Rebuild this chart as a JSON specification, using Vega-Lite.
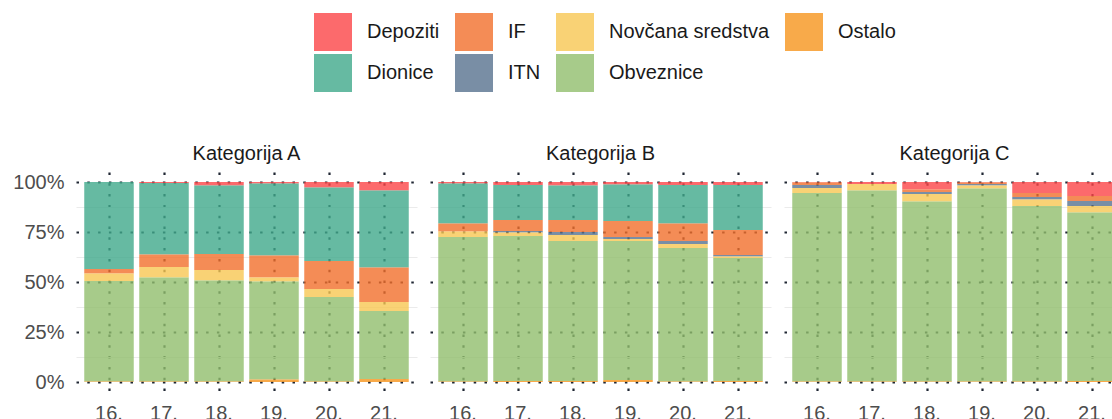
{
  "$schema": "https://vega.github.io/schema/vega-lite/v6.json",
  "padding": {"left": 12, "top": 13, "right": 0, "bottom": 0},
  "data": {"values": [
    {"kategorija": "Kategorija A", "razdoblje": "16.", "vrsta": "Dionice", "udio": 43.5},
    {"kategorija": "Kategorija A", "razdoblje": "16.", "vrsta": "IF", "udio": 2.2},
    {"kategorija": "Kategorija A", "razdoblje": "16.", "vrsta": "Novčana sredstva", "udio": 3.8},
    {"kategorija": "Kategorija A", "razdoblje": "16.", "vrsta": "Obveznice", "udio": 50.2},
    {"kategorija": "Kategorija A", "razdoblje": "16.", "vrsta": "Ostalo", "udio": 0.3},
    {"kategorija": "Kategorija A", "razdoblje": "17.", "vrsta": "Depoziti", "udio": 0.5},
    {"kategorija": "Kategorija A", "razdoblje": "17.", "vrsta": "Dionice", "udio": 35.7},
    {"kategorija": "Kategorija A", "razdoblje": "17.", "vrsta": "IF", "udio": 6.3},
    {"kategorija": "Kategorija A", "razdoblje": "17.", "vrsta": "Novčana sredstva", "udio": 5.3},
    {"kategorija": "Kategorija A", "razdoblje": "17.", "vrsta": "Obveznice", "udio": 51.9},
    {"kategorija": "Kategorija A", "razdoblje": "17.", "vrsta": "Ostalo", "udio": 0.3},
    {"kategorija": "Kategorija A", "razdoblje": "18.", "vrsta": "Depoziti", "udio": 1.8},
    {"kategorija": "Kategorija A", "razdoblje": "18.", "vrsta": "Dionice", "udio": 34.2},
    {"kategorija": "Kategorija A", "razdoblje": "18.", "vrsta": "IF", "udio": 8.0},
    {"kategorija": "Kategorija A", "razdoblje": "18.", "vrsta": "Novčana sredstva", "udio": 5.2},
    {"kategorija": "Kategorija A", "razdoblje": "18.", "vrsta": "Obveznice", "udio": 50.5},
    {"kategorija": "Kategorija A", "razdoblje": "18.", "vrsta": "Ostalo", "udio": 0.3},
    {"kategorija": "Kategorija A", "razdoblje": "19.", "vrsta": "Depoziti", "udio": 0.7},
    {"kategorija": "Kategorija A", "razdoblje": "19.", "vrsta": "Dionice", "udio": 36.1},
    {"kategorija": "Kategorija A", "razdoblje": "19.", "vrsta": "IF", "udio": 11.0},
    {"kategorija": "Kategorija A", "razdoblje": "19.", "vrsta": "Novčana sredstva", "udio": 2.0},
    {"kategorija": "Kategorija A", "razdoblje": "19.", "vrsta": "Obveznice", "udio": 49.0},
    {"kategorija": "Kategorija A", "razdoblje": "19.", "vrsta": "Ostalo", "udio": 1.2},
    {"kategorija": "Kategorija A", "razdoblje": "20.", "vrsta": "Depoziti", "udio": 2.8},
    {"kategorija": "Kategorija A", "razdoblje": "20.", "vrsta": "Dionice", "udio": 36.7},
    {"kategorija": "Kategorija A", "razdoblje": "20.", "vrsta": "IF", "udio": 14.0},
    {"kategorija": "Kategorija A", "razdoblje": "20.", "vrsta": "Novčana sredstva", "udio": 4.0},
    {"kategorija": "Kategorija A", "razdoblje": "20.", "vrsta": "Obveznice", "udio": 42.2},
    {"kategorija": "Kategorija A", "razdoblje": "20.", "vrsta": "Ostalo", "udio": 0.3},
    {"kategorija": "Kategorija A", "razdoblje": "21.", "vrsta": "Depoziti", "udio": 4.2},
    {"kategorija": "Kategorija A", "razdoblje": "21.", "vrsta": "Dionice", "udio": 38.6},
    {"kategorija": "Kategorija A", "razdoblje": "21.", "vrsta": "IF", "udio": 17.2},
    {"kategorija": "Kategorija A", "razdoblje": "21.", "vrsta": "Novčana sredstva", "udio": 4.5},
    {"kategorija": "Kategorija A", "razdoblje": "21.", "vrsta": "Obveznice", "udio": 34.0},
    {"kategorija": "Kategorija A", "razdoblje": "21.", "vrsta": "Ostalo", "udio": 1.5},
    {"kategorija": "Kategorija B", "razdoblje": "16.", "vrsta": "Depoziti", "udio": 0.7},
    {"kategorija": "Kategorija B", "razdoblje": "16.", "vrsta": "Dionice", "udio": 20.0},
    {"kategorija": "Kategorija B", "razdoblje": "16.", "vrsta": "IF", "udio": 4.1},
    {"kategorija": "Kategorija B", "razdoblje": "16.", "vrsta": "Novčana sredstva", "udio": 2.7},
    {"kategorija": "Kategorija B", "razdoblje": "16.", "vrsta": "Obveznice", "udio": 72.2},
    {"kategorija": "Kategorija B", "razdoblje": "16.", "vrsta": "Ostalo", "udio": 0.3},
    {"kategorija": "Kategorija B", "razdoblje": "17.", "vrsta": "Depoziti", "udio": 1.5},
    {"kategorija": "Kategorija B", "razdoblje": "17.", "vrsta": "Dionice", "udio": 17.5},
    {"kategorija": "Kategorija B", "razdoblje": "17.", "vrsta": "IF", "udio": 5.5},
    {"kategorija": "Kategorija B", "razdoblje": "17.", "vrsta": "ITN", "udio": 0.7},
    {"kategorija": "Kategorija B", "razdoblje": "17.", "vrsta": "Novčana sredstva", "udio": 1.8},
    {"kategorija": "Kategorija B", "razdoblje": "17.", "vrsta": "Obveznice", "udio": 72.5},
    {"kategorija": "Kategorija B", "razdoblje": "17.", "vrsta": "Ostalo", "udio": 0.5},
    {"kategorija": "Kategorija B", "razdoblje": "18.", "vrsta": "Depoziti", "udio": 1.8},
    {"kategorija": "Kategorija B", "razdoblje": "18.", "vrsta": "Dionice", "udio": 17.2},
    {"kategorija": "Kategorija B", "razdoblje": "18.", "vrsta": "IF", "udio": 6.0},
    {"kategorija": "Kategorija B", "razdoblje": "18.", "vrsta": "ITN", "udio": 1.5},
    {"kategorija": "Kategorija B", "razdoblje": "18.", "vrsta": "Novčana sredstva", "udio": 3.0},
    {"kategorija": "Kategorija B", "razdoblje": "18.", "vrsta": "Obveznice", "udio": 70.0},
    {"kategorija": "Kategorija B", "razdoblje": "18.", "vrsta": "Ostalo", "udio": 0.5},
    {"kategorija": "Kategorija B", "razdoblje": "19.", "vrsta": "Depoziti", "udio": 1.3},
    {"kategorija": "Kategorija B", "razdoblje": "19.", "vrsta": "Dionice", "udio": 18.2},
    {"kategorija": "Kategorija B", "razdoblje": "19.", "vrsta": "IF", "udio": 8.0},
    {"kategorija": "Kategorija B", "razdoblje": "19.", "vrsta": "ITN", "udio": 1.0},
    {"kategorija": "Kategorija B", "razdoblje": "19.", "vrsta": "Novčana sredstva", "udio": 1.0},
    {"kategorija": "Kategorija B", "razdoblje": "19.", "vrsta": "Obveznice", "udio": 69.5},
    {"kategorija": "Kategorija B", "razdoblje": "19.", "vrsta": "Ostalo", "udio": 1.0},
    {"kategorija": "Kategorija B", "razdoblje": "20.", "vrsta": "Depoziti", "udio": 1.5},
    {"kategorija": "Kategorija B", "razdoblje": "20.", "vrsta": "Dionice", "udio": 19.3},
    {"kategorija": "Kategorija B", "razdoblje": "20.", "vrsta": "IF", "udio": 8.7},
    {"kategorija": "Kategorija B", "razdoblje": "20.", "vrsta": "ITN", "udio": 1.5},
    {"kategorija": "Kategorija B", "razdoblje": "20.", "vrsta": "Novčana sredstva", "udio": 2.0},
    {"kategorija": "Kategorija B", "razdoblje": "20.", "vrsta": "Obveznice", "udio": 66.7},
    {"kategorija": "Kategorija B", "razdoblje": "20.", "vrsta": "Ostalo", "udio": 0.3},
    {"kategorija": "Kategorija B", "razdoblje": "21.", "vrsta": "Depoziti", "udio": 1.5},
    {"kategorija": "Kategorija B", "razdoblje": "21.", "vrsta": "Dionice", "udio": 22.5},
    {"kategorija": "Kategorija B", "razdoblje": "21.", "vrsta": "IF", "udio": 12.5},
    {"kategorija": "Kategorija B", "razdoblje": "21.", "vrsta": "ITN", "udio": 0.7},
    {"kategorija": "Kategorija B", "razdoblje": "21.", "vrsta": "Novčana sredstva", "udio": 0.8},
    {"kategorija": "Kategorija B", "razdoblje": "21.", "vrsta": "Obveznice", "udio": 61.5},
    {"kategorija": "Kategorija B", "razdoblje": "21.", "vrsta": "Ostalo", "udio": 0.5},
    {"kategorija": "Kategorija C", "razdoblje": "16.", "vrsta": "Depoziti", "udio": 0.2},
    {"kategorija": "Kategorija C", "razdoblje": "16.", "vrsta": "IF", "udio": 1.3},
    {"kategorija": "Kategorija C", "razdoblje": "16.", "vrsta": "ITN", "udio": 1.5},
    {"kategorija": "Kategorija C", "razdoblje": "16.", "vrsta": "Novčana sredstva", "udio": 2.5},
    {"kategorija": "Kategorija C", "razdoblje": "16.", "vrsta": "Obveznice", "udio": 94.2},
    {"kategorija": "Kategorija C", "razdoblje": "16.", "vrsta": "Ostalo", "udio": 0.3},
    {"kategorija": "Kategorija C", "razdoblje": "17.", "vrsta": "Depoziti", "udio": 1.0},
    {"kategorija": "Kategorija C", "razdoblje": "17.", "vrsta": "Novčana sredstva", "udio": 3.2},
    {"kategorija": "Kategorija C", "razdoblje": "17.", "vrsta": "Obveznice", "udio": 95.5},
    {"kategorija": "Kategorija C", "razdoblje": "17.", "vrsta": "Ostalo", "udio": 0.3},
    {"kategorija": "Kategorija C", "razdoblje": "18.", "vrsta": "Depoziti", "udio": 3.7},
    {"kategorija": "Kategorija C", "razdoblje": "18.", "vrsta": "IF", "udio": 1.3},
    {"kategorija": "Kategorija C", "razdoblje": "18.", "vrsta": "ITN", "udio": 1.0},
    {"kategorija": "Kategorija C", "razdoblje": "18.", "vrsta": "Novčana sredstva", "udio": 3.7},
    {"kategorija": "Kategorija C", "razdoblje": "18.", "vrsta": "Obveznice", "udio": 90.0},
    {"kategorija": "Kategorija C", "razdoblje": "18.", "vrsta": "Ostalo", "udio": 0.3},
    {"kategorija": "Kategorija C", "razdoblje": "19.", "vrsta": "Depoziti", "udio": 0.2},
    {"kategorija": "Kategorija C", "razdoblje": "19.", "vrsta": "IF", "udio": 0.8},
    {"kategorija": "Kategorija C", "razdoblje": "19.", "vrsta": "ITN", "udio": 0.8},
    {"kategorija": "Kategorija C", "razdoblje": "19.", "vrsta": "Novčana sredstva", "udio": 1.4},
    {"kategorija": "Kategorija C", "razdoblje": "19.", "vrsta": "Obveznice", "udio": 96.5},
    {"kategorija": "Kategorija C", "razdoblje": "19.", "vrsta": "Ostalo", "udio": 0.3},
    {"kategorija": "Kategorija C", "razdoblje": "20.", "vrsta": "Depoziti", "udio": 5.5},
    {"kategorija": "Kategorija C", "razdoblje": "20.", "vrsta": "IF", "udio": 2.0},
    {"kategorija": "Kategorija C", "razdoblje": "20.", "vrsta": "ITN", "udio": 1.2},
    {"kategorija": "Kategorija C", "razdoblje": "20.", "vrsta": "Novčana sredstva", "udio": 3.3},
    {"kategorija": "Kategorija C", "razdoblje": "20.", "vrsta": "Obveznice", "udio": 87.7},
    {"kategorija": "Kategorija C", "razdoblje": "20.", "vrsta": "Ostalo", "udio": 0.3},
    {"kategorija": "Kategorija C", "razdoblje": "21.", "vrsta": "Depoziti", "udio": 7.0},
    {"kategorija": "Kategorija C", "razdoblje": "21.", "vrsta": "IF", "udio": 2.5},
    {"kategorija": "Kategorija C", "razdoblje": "21.", "vrsta": "ITN", "udio": 2.5},
    {"kategorija": "Kategorija C", "razdoblje": "21.", "vrsta": "Novčana sredstva", "udio": 3.2},
    {"kategorija": "Kategorija C", "razdoblje": "21.", "vrsta": "Obveznice", "udio": 84.3},
    {"kategorija": "Kategorija C", "razdoblje": "21.", "vrsta": "Ostalo", "udio": 0.5}
  ]},
  "facet": {
    "column": {
      "field": "kategorija", "type": "nominal",
      "header": {"title": null, "labelFontSize": 20, "labelFont": "Liberation Sans", "labelColor": "#1A1A1A", "labelPadding": 8}
    }
  },
  "spacing": 13,
  "spec": {
    "width": 341,
    "height": 220,
    "mark": {"type": "bar", "opacity": 0.8},
    "encoding": {
      "x": {
        "field": "razdoblje", "type": "ordinal",
        "scale": {"paddingInner": 0.1, "paddingOuter": 0.15},
        "axis": {
          "title": null, "labelAngle": 0, "ticks": false, "domain": false,
          "labelFontSize": 20, "labelFont": "Liberation Sans", "labelColor": "#4D4D4D", "labelPadding": 11,
          "grid": true, "bandPosition": 0.5, "gridColor": "#1F2633", "gridWidth": 2.2, "gridDash": [2.5, 8.3], "gridOpacity": 1
        }
      },
      "y": {
        "field": "udio", "type": "quantitative", "stack": "normalize",
        "scale": {"domain": [-0.05, 1.05], "nice": false, "zero": false},
        "axis": {
          "title": null, "ticks": false, "domain": false,
          "values": [0, 0.125, 0.25, 0.375, 0.5, 0.625, 0.75, 0.875, 1],
          "labelExpr": "datum.value % 0.25 === 0 ? format(datum.value, '.0%') : ''",
          "labelFontSize": 20, "labelFont": "Liberation Sans", "labelColor": "#4D4D4D", "labelPadding": 12,
          "grid": true, "gridOpacity": 1,
          "gridColor": {"condition": {"test": "datum.value % 0.25 === 0", "value": "#1F2633"}, "value": "#EBEBEB"},
          "gridWidth": {"condition": {"test": "datum.value % 0.25 === 0", "value": 2.2}, "value": 1},
          "gridDash": {"condition": {"test": "datum.value % 0.25 === 0", "value": [2.5, 8.3]}, "value": []}
        }
      },
      "color": {
        "field": "vrsta", "type": "nominal",
        "scale": {
          "domain": ["Depoziti", "IF", "Novčana sredstva", "Ostalo", "Dionice", "ITN", "Obveznice"],
          "range": ["#FB4547", "#F16F2C", "#F7C753", "#F6951D", "#40A98B", "#58728F", "#91BE6D"]
        },
        "legend": {
          "title": null, "orient": "none", "legendX": 238, "legendY": -159, "direction": "horizontal", "columns": 4,
          "symbolType": "square", "symbolSize": 1444, "symbolStrokeWidth": 0,
          "labelFontSize": 20, "labelFont": "Liberation Sans", "labelColor": "#1A1A1A", "labelOffset": 15,
          "labelLimit": 0, "columnPadding": 15, "rowPadding": 3
        }
      },
      "order": {"field": "vrsta", "sort": "descending"}
    }
  },
  "config": {"view": {"stroke": null}, "font": "Liberation Sans"}
}
